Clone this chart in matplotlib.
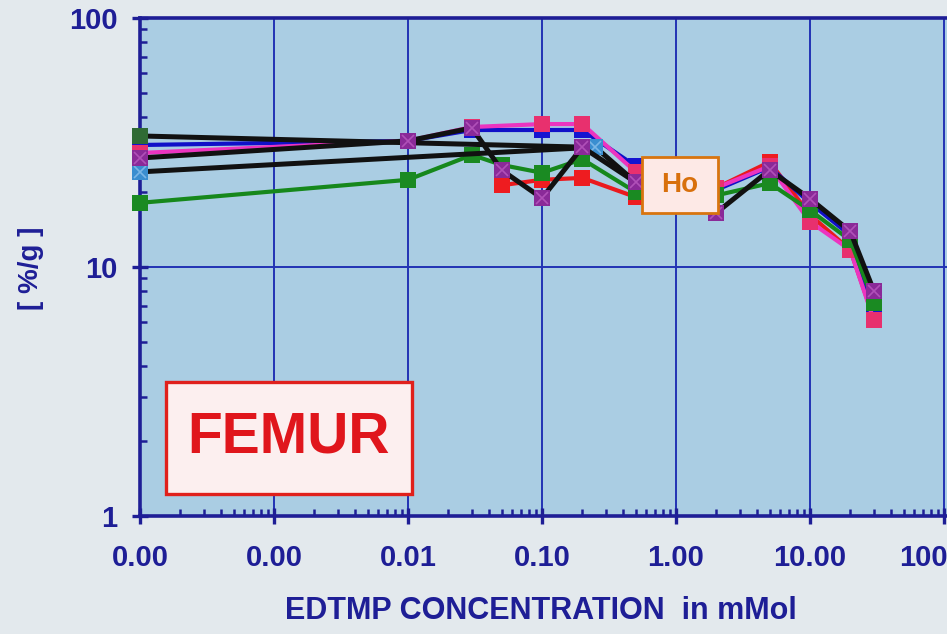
"""Femur uptake vs EDTMP concentration (Ho), log-log chart."""

import matplotlib

matplotlib.use("Agg")
import matplotlib.pyplot as plt
from matplotlib.patches import Rectangle
from matplotlib.ticker import FixedLocator, FuncFormatter, LogLocator, NullFormatter


# EDTMP concentration [mMol] and femur uptake [%/g] per curve
CONC_RED = [0.05, 0.1, 0.2, 0.5, 2, 5, 10, 20, 30]
UPTAKE_RED = [21.3, 22.4, 22.8, 19.1, 20.8, 26.4, 16.2, 11.7, 6.2]

CONC_MAIN = [0.0001, 0.01, 0.03, 0.1, 0.2, 0.5, 2, 5, 10, 20, 30]
UPTAKE_BLUE = [30.9, 32.1, 35.5, 35.5, 35.5, 25.4, 20.4, 25.2, 18.1, 13.4, 6.5]
UPTAKE_MAGENTA = [28.7, 32.1, 36.5, 37.5, 37.5, 24.1, 20.8, 25.4, 15.2, 11.7, 6.1]

CONC_GREEN = [0.0001, 0.01, 0.03, 0.05, 0.1, 0.2, 0.5, 2, 5, 10, 20, 30]
UPTAKE_GREEN = [18.1, 22.4, 28.2, 25.7, 23.9, 27.1, 20.0, 19.4, 21.7, 16.9, 12.8, 7.2]

CONC_BLACK = [0.0001, 0.01, 0.03, 0.05, 0.1, 0.2, 0.5, 2, 5, 10, 20, 30]
UPTAKE_BLACK = [27.4, 32.1, 36.2, 24.5, 18.9, 30.3, 21.9, 16.5, 24.5, 18.8, 13.9, 8.0]

CONC_OLIVE = [0.0001, 0.2]
UPTAKE_OLIVE = [33.6, 30.3]

CONC_CYAN = [0.0001, 0.25, 0.5]
UPTAKE_CYAN = [24.1, 30.3, 21.9]

X_TICKS = [0.0001, 0.001, 0.01, 0.1, 1, 10, 100]
Y_TICKS = [1, 10, 100]

NAVY = "#1e1e96"
GRID_BLUE = "#2232b4"


def main() -> None:
    plt.rcParams.update({"font.family": ["Liberation Sans", "DejaVu Sans"]})
    fig = plt.figure(figsize=(9.47, 6.34), dpi=100, facecolor="#e3e9ed")
    ax = fig.add_axes((0.1478, 0.1861, 0.8522, 0.7855))
    ax.set_facecolor("#aacde3")
    ax.set_xscale("log")
    ax.set_yscale("log")
    ax.set_xlim(1e-4, 105.3)
    ax.set_ylim(1, 100)

    ax.grid(which="major", color=GRID_BLUE, linewidth=1.4)
    ax.set_axisbelow(True)

    line_kw = dict(linewidth=3.0, marker="s", markersize=11, markeredgewidth=0,
                   clip_on=False)
    ax.plot(CONC_RED, UPTAKE_RED, color="#ea1a1e", markerfacecolor="#ee1c20", **line_kw)
    ax.plot(CONC_MAIN, UPTAKE_BLUE, color="#1010c8", markerfacecolor="#1414d0", **line_kw)
    ax.plot(CONC_MAIN, UPTAKE_MAGENTA, color="#ec34c0", markerfacecolor="#e8306e", **line_kw)
    ax.plot(CONC_GREEN, UPTAKE_GREEN, color="#16881c", markerfacecolor="#1a8a22", **line_kw)

    black_kw = dict(color="#111111", linewidth=3.6, marker="s", markersize=11,
                    markeredgewidth=0, clip_on=False)
    cross_kw = dict(linestyle="none", marker="x", markersize=8, markeredgewidth=1.2,
                    clip_on=False)
    ax.plot(CONC_OLIVE, UPTAKE_OLIVE, markerfacecolor="#2f6b34", **black_kw)
    ax.plot(CONC_CYAN, UPTAKE_CYAN, markerfacecolor="#3a8ed0", **black_kw)
    ax.plot(CONC_CYAN, UPTAKE_CYAN, color="#7ab6e6", **cross_kw)
    ax.plot(CONC_BLACK, UPTAKE_BLACK, markerfacecolor="#8a2a98", **black_kw)
    ax.plot(CONC_BLACK, UPTAKE_BLACK, color="#b050b8", **cross_kw)

    for side in ("left", "bottom", "top"):
        ax.spines[side].set_color(NAVY)
        ax.spines[side].set_linewidth(2.6)
        ax.spines[side].set_zorder(1.5)
    ax.spines["right"].set_visible(False)

    ax.xaxis.set_major_locator(FixedLocator(X_TICKS))
    ax.xaxis.set_minor_locator(LogLocator(base=10, subs=range(2, 10), numticks=20))
    ax.xaxis.set_major_formatter(FuncFormatter(lambda v, _: f"{v:.2f}"))
    ax.xaxis.set_minor_formatter(NullFormatter())
    ax.yaxis.set_major_locator(FixedLocator(Y_TICKS))
    ax.yaxis.set_minor_locator(LogLocator(base=10, subs=range(2, 10), numticks=20))
    ax.yaxis.set_major_formatter(FuncFormatter(lambda v, _: f"{v:g}"))
    ax.yaxis.set_minor_formatter(NullFormatter())

    ax.tick_params(which="major", direction="inout", length=12, width=2.4,
                   color=NAVY, labelcolor=NAVY, labelsize=21)
    ax.tick_params(axis="x", which="major", pad=14)
    ax.tick_params(axis="y", which="major", pad=10)
    ax.tick_params(which="minor", direction="in", length=5, width=1.8, color=NAVY)
    for label in ax.get_xticklabels() + ax.get_yticklabels():
        label.set_fontweight("bold")

    fig.text(0.571, 0.036, "EDTMP CONCENTRATION  in mMol", ha="center", va="center",
             fontsize=22, fontweight="bold", color=NAVY)
    fig.text(0.033, 0.577, "[ %/g ]", ha="center", va="center", rotation=90,
             fontsize=20, fontweight="bold", color=NAVY)

    # "Ho" label box
    ax.add_patch(Rectangle((0.622, 0.6084), 0.0945, 0.1124, transform=ax.transAxes,
                           facecolor="#fde9e6", edgecolor="#d8740e", linewidth=2,
                           zorder=5))
    ax.text(0.669, 0.664, "Ho", transform=ax.transAxes, ha="center", va="center",
            fontsize=20, fontweight="bold", color="#d8700c", zorder=6)

    # "FEMUR" label box
    ax.add_patch(Rectangle((0.0323, 0.0442), 0.3047, 0.2249, transform=ax.transAxes,
                           facecolor="#fcefef", edgecolor="#e0201c", linewidth=2.4,
                           zorder=5))
    ax.text(0.184, 0.158, "FEMUR", transform=ax.transAxes, ha="center", va="center",
            fontsize=41, fontweight="bold", color="#e0161c", zorder=6)

    fig.savefig("out.png", dpi=100, facecolor=fig.get_facecolor())
    plt.close(fig)


if __name__ == "__main__":
    main()
